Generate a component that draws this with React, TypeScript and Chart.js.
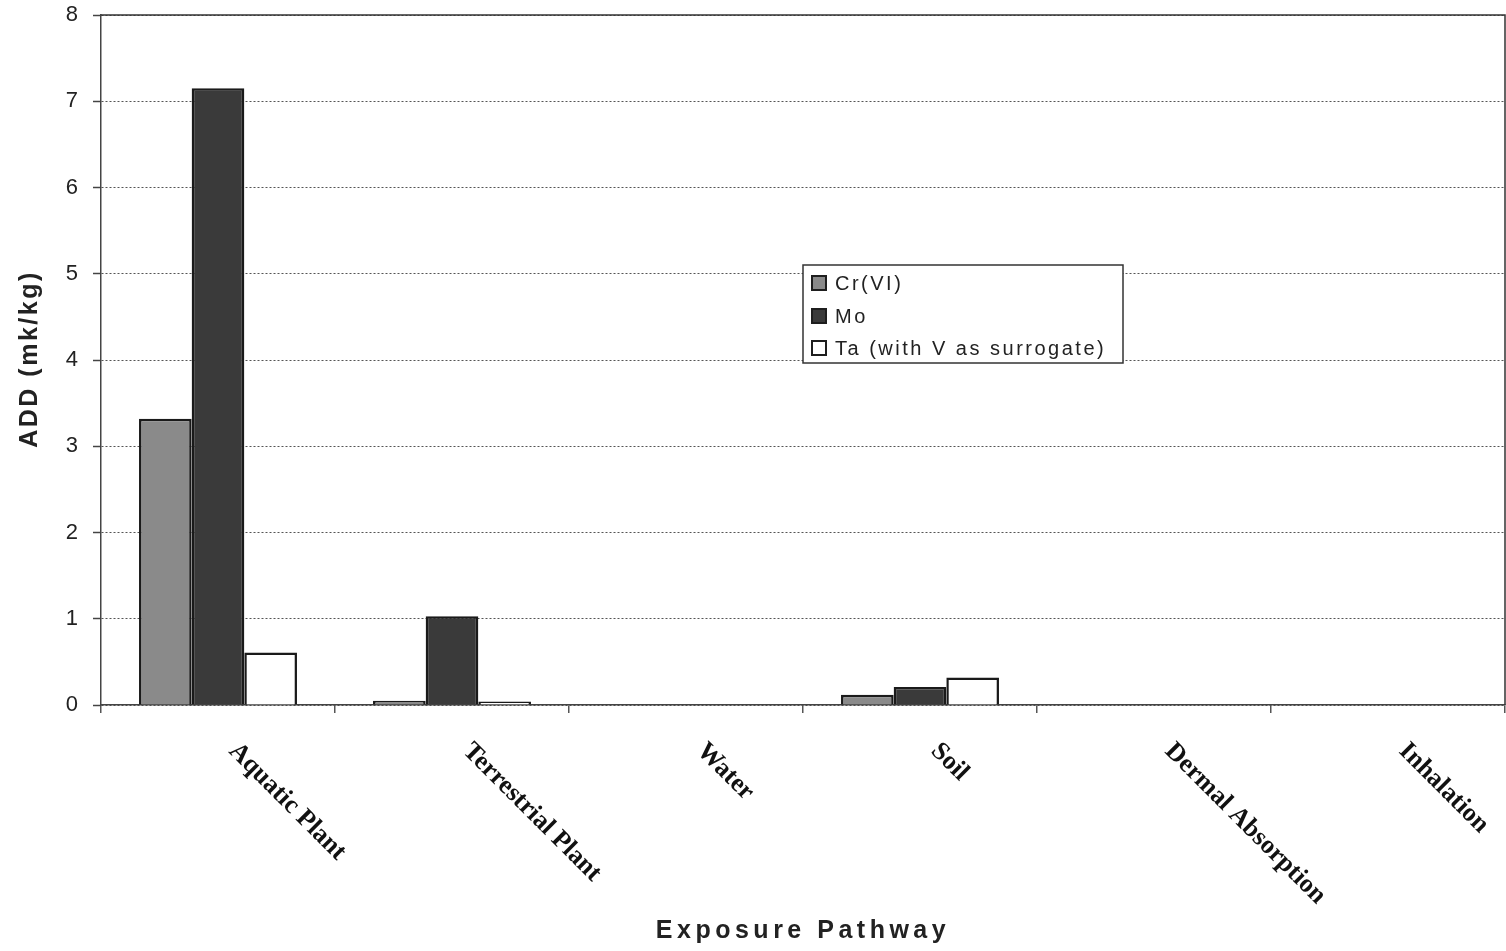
import React, { useEffect, useRef } from 'react';
import { Chart, registerables } from 'chart.js';

Chart.register(...registerables);

const categories = ['Aquatic Plant', 'Terrestrial Plant', 'Water', 'Soil', 'Dermal Absorption', 'Inhalation'];
const crVI = [3.32, 0.05, 0, 0.12, 0, 0];
const mo = [7.15, 1.03, 0, 0.21, 0, 0];
const ta = [0.61, 0.04, 0, 0.32, 0, 0];
const seriesNames = ['Cr(VI)', 'Mo', 'Ta (with V as surrogate)'];
const seriesColors = ['#8a8a8a', '#3a3a3a', '#ffffff'];
const yMin = 0;
const yMax = 8;
const yStep = 1;
const xTitle = 'Exposure Pathway';
const yTitle = 'ADD (mk/kg)';

const SANS = '"Liberation Sans", Arial, sans-serif';
const SERIF = '"Liberation Serif", "Times New Roman", serif';

const decor = {
  id: 'decor',
  afterDraw(chart: any) {
    const { ctx, chartArea, scales } = chart;
    const xs = scales.x;
    ctx.save();
    // top + right frame
    ctx.strokeStyle = '#333';
    ctx.lineWidth = 1.5;
    ctx.setLineDash([]);
    ctx.beginPath();
    ctx.moveTo(chartArea.left, chartArea.top);
    ctx.lineTo(chartArea.right, chartArea.top);
    ctx.lineTo(chartArea.right, chartArea.bottom);
    ctx.stroke();

    // rotated category labels
    ctx.font = 'bold 26px ' + SERIF;
    ctx.fillStyle = '#111';
    ctx.textAlign = 'left';
    ctx.textBaseline = 'alphabetic';
    categories.forEach((c, i) => {
      const px = xs.getPixelForValue(i);
      ctx.save();
      ctx.translate(px + 10, 752);
      ctx.rotate(Math.PI / 4);
      ctx.fillText(c, 0, 0);
      ctx.restore();
    });

    // x title
    ctx.font = 'bold 25px ' + SANS;
    ctx.fillStyle = '#222';
    (ctx as any).letterSpacing = '4.5px';
    ctx.textAlign = 'center';
    ctx.textBaseline = 'middle';
    ctx.fillText(xTitle, (chartArea.left + chartArea.right) / 2, 931);

    // y title
    ctx.font = 'bold 25px ' + SANS;
    (ctx as any).letterSpacing = '2.5px';
    ctx.save();
    ctx.translate(30, 359);
    ctx.rotate(-Math.PI / 2);
    ctx.fillText(yTitle, 0, 0);
    ctx.restore();

    // legend
    const lx = 803, ly = 265, lw = 320, lh = 98;
    ctx.fillStyle = '#fff';
    ctx.fillRect(lx, ly, lw, lh);
    ctx.strokeStyle = '#333';
    ctx.lineWidth = 1.5;
    ctx.strokeRect(lx, ly, lw, lh);
    const rows = [283, 316, 348];
    ctx.font = '20px ' + SANS;
    (ctx as any).letterSpacing = '2.5px';
    ctx.textAlign = 'left';
    ctx.textBaseline = 'middle';
    seriesNames.forEach((name, i) => {
      const cy = rows[i];
      ctx.fillStyle = seriesColors[i];
      ctx.fillRect(812, cy - 7, 14, 14);
      ctx.strokeStyle = '#1e1e1e';
      ctx.lineWidth = 2;
      ctx.strokeRect(812, cy - 7, 14, 14);
      ctx.fillStyle = '#222';
      ctx.fillText(name, 835, cy + 1);
    });
    ctx.restore();
  },
};

export default function App() {
  const ref = useRef<HTMLCanvasElement | null>(null);
  useEffect(() => {
    if (!ref.current) return;
    const chart = new Chart(ref.current, {
      type: 'bar',
      data: {
        labels: categories,
        datasets: [crVI, mo, ta].map((d, i) => ({
          label: seriesNames[i],
          data: d,
          backgroundColor: seriesColors[i],
          borderColor: '#1a1a1a',
          borderWidth: 2.5,
          categoryPercentage: 0.675,
          barPercentage: 1,
        })),
      },
      options: {
        animation: false,
        responsive: false,
        devicePixelRatio: 1,
        layout: { padding: { top: 15, right: 1, left: 0, bottom: 0 } },
        plugins: { legend: { display: false }, tooltip: { enabled: false } },
        scales: {
          x: {
            offset: true,
            grid: { display: true, drawOnChartArea: false, drawTicks: true, tickLength: 8, color: '#555', lineWidth: 1.5 },
            border: { display: true, color: '#444', width: 1.5 },
            ticks: { display: false },
            afterFit: (s: any) => { s.height = 246; s.paddingLeft = 0; s.paddingRight = 0; },
          },
          y: {
            min: yMin,
            max: yMax,
            ticks: { stepSize: yStep, padding: 15, color: '#222', font: { family: SANS, size: 22 } },
            grid: { color: '#555', lineWidth: 1, tickLength: 8, tickColor: '#444', tickWidth: 1.5, tickBorderDash: [] },
            border: { display: true, color: '#444', width: 1.5, dash: [2, 2] },
            afterFit: (s: any) => { s.width = 101; s.paddingTop = 0; s.paddingBottom = 0; },
          },
        },
      } as any,
      plugins: [decor],
    });
    return () => chart.destroy();
  }, []);
  return (
    <div style={{ position: 'absolute', left: 0, top: 0, width: 1506, height: 951, background: '#fff' }}>
      <canvas ref={ref} width={1506} height={951} />
    </div>
  );
}
